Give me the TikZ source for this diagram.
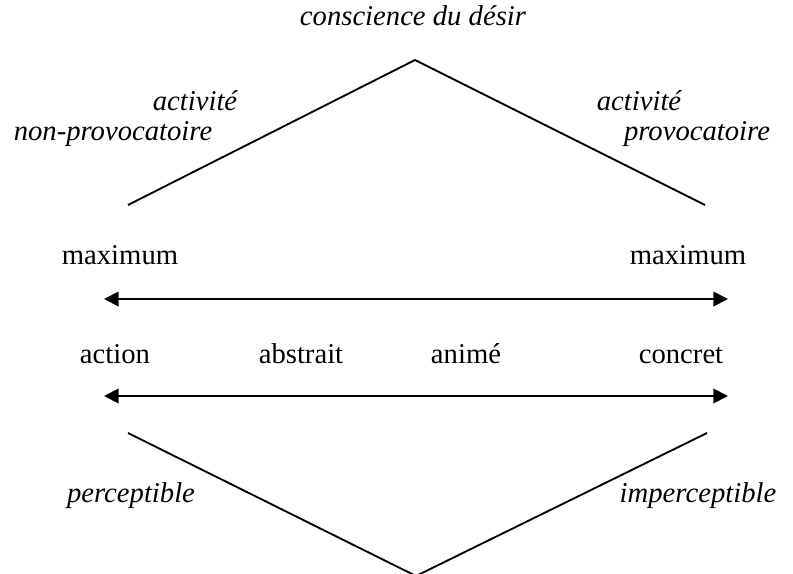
\documentclass[tikz,border=0pt]{standalone}
\usepackage{fontspec}
\setmainfont{Liberation Serif}
\usetikzlibrary{arrows.meta}
\tikzset{
	mot/.style={anchor=base, inner sep=0pt, font=\fontsize{21.5}{26}\selectfont},
	motit/.style={mot, font=\fontsize{21.5}{26}\selectfont\itshape},
	trait/.style={line width=1.4pt},
	fleche/.style={trait, {Triangle[length=11pt,width=11pt]}-{Triangle[length=11pt,width=11pt]}}
}
\begin{document}
\begin{tikzpicture}[x=0.75pt, y=-0.75pt]
	\useasboundingbox (0,0) rectangle (793,574); %page
	\coordinate (hautG) at (128,205); %left end of upper roof
	\coordinate (sommet) at (415,60); %top of upper roof
	\coordinate (hautD) at (705,205); %right end of upper roof
	\coordinate (basG) at (128,433); %left end of lower roof
	\coordinate (fond) at (416,576); %bottom of lower roof
	\coordinate (basD) at (707,433); %right end of lower roof
	\coordinate (axe1G) at (104,299); %upper axis, left
	\coordinate (axe1D) at (728,299); %upper axis, right
	\coordinate (axe2G) at (104,396); %lower axis, left
	\coordinate (axe2D) at (728,396); %lower axis, right
	\draw[trait] (hautG)--(sommet)--(hautD); %upper roof
	\draw[trait] (basG)--(fond)--(basD); %lower roof
	\draw[fleche] (axe1G)--(axe1D); %upper axis
	\draw[fleche] (axe2G)--(axe2D); %lower axis
	\node[motit] (desir) at (413,26) {conscience du désir}; %top label
	\node[motit] (actG) at (195,111) {activité}; %left activity
	\node[motit] (nonprov) at (113,141) {non-provocatoire}; %left activity, second line
	\node[motit] (actD) at (639,111) {activité}; %right activity
	\node[motit] (prov) at (697,141) {provocatoire}; %right activity, second line
	\node[mot] (maxG) at (120,265) {maximum}; %left maximum
	\node[mot] (maxD) at (688,265) {maximum}; %right maximum
	\node[mot] (action) at (115,363) {action}; %scale, 1
	\node[mot] (abstrait) at (301,363) {abstrait}; %scale, 2
	\node[mot] (anime) at (466,363) {animé}; %scale, 3
	\node[mot] (concret) at (681,363) {concret}; %scale, 4
	\node[motit] (percep) at (131,502) {perceptible}; %left bottom label
	\node[motit] (imper) at (698,502) {imperceptible}; %right bottom label
\end{tikzpicture}
\end{document}
